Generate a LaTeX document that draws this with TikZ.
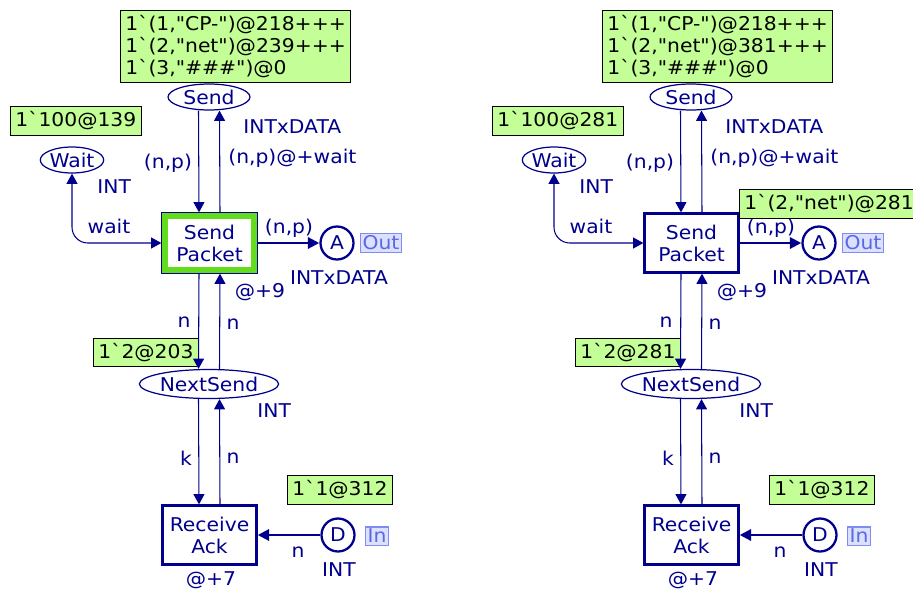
\documentclass[tikz,border=0pt]{standalone}
\usepackage{fontspec}
\setmainfont{DejaVu Sans}[Ligatures=TeXOff, FakeStretch=1.07]
\usetikzlibrary{arrows.meta,calc,shapes.geometric}

\definecolor{cpnblue}{RGB}{0,0,140}
\definecolor{tokgreen}{RGB}{195,255,150}
\definecolor{selgreen}{RGB}{100,220,30}
\definecolor{tagfill}{RGB}{220,224,255}
\definecolor{tagline}{RGB}{130,140,240}
\definecolor{tagtext}{RGB}{90,105,225}

\tikzset{
  place/.style={ellipse, draw=cpnblue, line width=0.7pt, inner sep=0pt, text=cpnblue},
  port/.style={circle, draw=cpnblue, line width=1.3pt, minimum size=0.66cm, inner sep=0pt, text=cpnblue},
  trans/.style={rectangle, draw=cpnblue, line width=1.3pt, minimum width=1.88cm, minimum height=1.18cm, align=center, text=cpnblue},
  token/.style={fill=tokgreen, draw=black, line width=0.6pt, text=black, align=left, inner sep=2.8pt},
  tag/.style={fill=tagfill, draw=tagline, line width=0.6pt, text=tagtext, inner sep=1.2pt},
  lbl/.style={text=cpnblue, inner sep=0pt},
  arc/.style={draw=cpnblue, line width=0.6pt, -{Triangle[width=6.2pt,length=5.8pt]}},
  thickarc/.style={draw=cpnblue, line width=1.6pt, -{Triangle[width=6.4pt,length=6.6pt]}}
}

\begin{document}
\begin{tikzpicture}[x=0.02cm, y=-0.02cm, font=\fontsize{10.8}{12.5}\selectfont]
\useasboundingbox (0,0) rectangle (913,595);

\foreach \s/\p/\w/\t/\n in {0/L/239/139/203, 482/R/381/281/281}{
  \begin{scope}[shift={(\s,0)}]
    % places and transitions
    \node[place, minimum width=1.64cm, minimum height=0.52cm] (send\p) at (209,97) {Send};
    \node[place, minimum width=1.2cm, minimum height=0.52cm] (wait\p) at (72,160) {Wait};
    \node[place, minimum width=2.44cm, minimum height=0.58cm] (next\p) at (209,384) {NextSend};
    \node[trans] (packet\p) at (209.5,243) {Send\\Packet};
    \node[trans] (ack\p) at (209.5,535) {Receive\\Ack};
    \node[port] (A\p) at (337,243) {A};
    \node[port] (D\p) at (338,535) {D};
    \node[tag, anchor=west] (out\p) at (360,243) {Out};
    \node[tag, anchor=west] (in\p) at (365,536) {In};

    % markings
    \node[token, anchor=west] (sendtok\p) at (120,46.5) {1`(1,"CP-")@218+++\\1`(2,"net")@\w+++\\1`(3,"\#\#\#")@0};
    \node[token, anchor=west] (waittok\p) at (10,121) {1`100@\t};
    \node[token, anchor=west] (nexttok\p) at (93,352.5) {1`2@\n};
    \node[token, anchor=west] (dtok\p) at (287,490) {1`1@312};

    % arcs
    \draw[arc] ($(send\p.south)+(-10.5,0)$) -- ($(packet\p.north)+(-10.5,0)$);
    \draw[arc] ($(packet\p.north)+(10.5,0)$) -- ($(send\p.south)+(10.5,0)$);
    \draw[arc, {Triangle[width=6.2pt,length=5.8pt]}-{Triangle[width=6.2pt,length=5.8pt]}, rounded corners=9pt] (packet\p.west) -| (wait\p.south);
    \draw[thickarc] (packet\p.east) -- (A\p.west);
    \draw[arc] ($(packet\p.south)+(-10.5,0)$) -- ($(next\p.north)+(-10.5,0)$);
    \draw[arc] ($(next\p.north)+(10.5,0)$) -- ($(packet\p.south)+(10.5,0)$);
    \draw[arc] ($(next\p.south)+(-10.5,0)$) -- ($(ack\p.north)+(-10.5,0)$);
    \draw[arc] ($(ack\p.north)+(10.5,0)$) -- ($(next\p.south)+(10.5,0)$);
    \draw[thickarc] (D\p.west) -- (ack\p.east);

    % inscriptions
    \node[lbl, anchor=west] at (243,127) {INTxDATA};
    \node[lbl] at (168,163) {(n,p)};
    \node[lbl, anchor=west] at (228,158) {(n,p)@+wait};
    \node[lbl, anchor=west] at (97,187) {INT};
    \node[lbl] at (109,226) {wait};
    \node[lbl] at (289,228) {(n,p)};
    \node[lbl] at (339,278) {INTxDATA};
    \node[lbl] at (260,292) {@+9};
    \node[lbl] at (184,322) {n};
    \node[lbl] at (233,324) {n};
    \node[lbl, anchor=west] at (257,411) {INT};
    \node[lbl] at (186,458) {k};
    \node[lbl] at (233,458) {n};
    \node[lbl] at (211,580) {@+7};
    \node[lbl] at (298,552) {n};
    \node[lbl] at (339,570) {INT};
  \end{scope}
}

% enabled transition
\draw[selgreen, line width=3.4pt] ([shift={(2.3pt,2.3pt)}]packetL.south west) rectangle ([shift={(-2.3pt,-2.3pt)}]packetL.north east);

% token on A after the step
\node[token, anchor=west] (atokR) at (739,204) {1`(2,"net")@281};
\end{tikzpicture}
\end{document}
